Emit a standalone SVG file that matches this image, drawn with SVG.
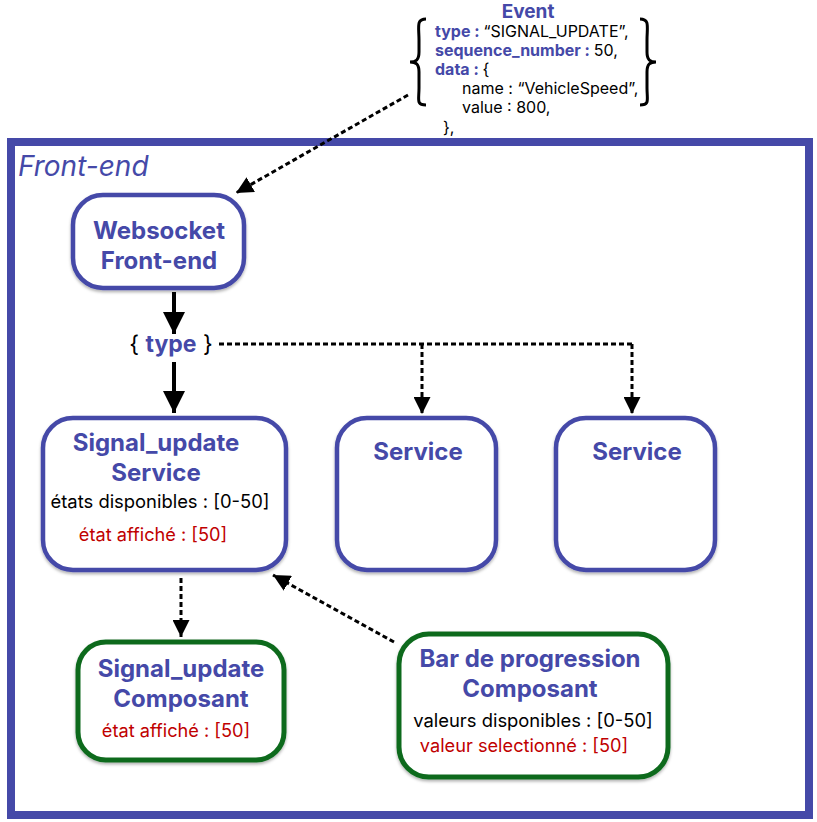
<svg xmlns="http://www.w3.org/2000/svg" width="817" height="822" viewBox="0 0 817 822">
  <defs>
    <style>
      text { font-family: Inter, "Noto Sans", "Liberation Sans", sans-serif; }
      .title { font-weight: 700; fill: #4549A8; font-size: 24px; text-anchor: middle; }
      .key { font-weight: 700; fill: #4549A8; }
      .code { font-size: 16px; fill: #000; }
      .body { font-size: 18.4px; fill: #000; text-anchor: middle; }
      .red { font-size: 18.2px; fill: #C00000; text-anchor: middle; }
      .blue-box { fill: #fff; stroke: #4549A8; stroke-width: 4.5; filter: url(#shadow); }
      .green-box { fill: #fff; stroke: #0E6A1E; stroke-width: 5; filter: url(#shadow); }
      .solid { stroke: #000; stroke-width: 4; fill: none; }
      .dash { stroke: #000; stroke-width: 3; fill: none; stroke-dasharray: 5 3; }
    </style>
    <filter id="shadow" x="-10%" y="-10%" width="120%" height="125%">
      <feDropShadow dx="0" dy="2" stdDeviation="1.5" flood-color="#000" flood-opacity="0.3"/>
    </filter>
    <marker id="headBig" viewBox="0 0 10 10" refX="10" refY="5" markerWidth="22" markerHeight="22" markerUnits="userSpaceOnUse" orient="auto">
      <path d="M0,0 L10,5 L0,10 z" fill="#000"/>
    </marker>
    <marker id="headMid" viewBox="0 0 10 10" refX="10" refY="5" markerWidth="17" markerHeight="17" markerUnits="userSpaceOnUse" orient="auto">
      <path d="M0,0 L10,5 L0,10 z" fill="#000"/>
    </marker>
  </defs>

  <rect width="817" height="822" fill="#fff"/>

  <!-- Front-end container -->
  <g id="frontend">
    <rect x="11" y="142" width="798" height="673" fill="none" stroke="#4549A8" stroke-width="8"/>
    <text x="18" y="176" font-size="28" font-style="italic" fill="#4549A8">Front-end</text>
  </g>

  <!-- Event payload -->
  <g id="event">
    <text x="528" y="18" class="title" style="font-size:19px">Event</text>
    <path d="M426,19 C416,19 419,27 419,40 L419,52 C419,60 416,62 410,62 C416,62 419,64 419,72 L419,88 C419,100 416,105 426,105" fill="none" stroke="#000" stroke-width="3"/>
    <path d="M640,19 C650,19 647,27 647,40 L647,52 C647,60 650,62 656,62 C650,62 647,64 647,72 L647,88 C647,100 650,105 640,105" fill="none" stroke="#000" stroke-width="3"/>
    <text x="435" y="37" class="code"><tspan class="key">type : </tspan>“SIGNAL_UPDATE”,</text>
    <text x="435" y="56" class="code"><tspan class="key">sequence_number : </tspan>50,</text>
    <text x="435" y="75" class="code"><tspan class="key">data : </tspan>{</text>
    <text x="462" y="94" class="code">name : “VehicleSpeed”,</text>
    <text x="462" y="113" class="code">value : 800,</text>
    <text x="443" y="133" class="code">},</text>
  </g>

  <!-- Nodes -->
  <g id="websocket">
    <rect x="73" y="195" width="171" height="93" rx="30" class="blue-box"/>
    <text x="159" y="239" class="title">Websocket</text>
    <text x="159" y="269" class="title">Front-end</text>
  </g>

  <g id="type-switch">
    <text x="171" y="352" text-anchor="middle" font-size="23"><tspan fill="#000">{ </tspan><tspan class="key">type</tspan><tspan fill="#000"> }</tspan></text>
  </g>

  <g id="signal-service">
    <rect x="43" y="418" width="243" height="152" rx="30" class="blue-box"/>
    <text x="156" y="451" class="title">Signal_update</text>
    <text x="156" y="481" class="title">Service</text>
    <text x="160" y="508" class="body">états disponibles : [0-50]</text>
    <text x="153" y="541" class="red">état affiché : [50]</text>
  </g>

  <g id="service-1">
    <rect x="337" y="418" width="159" height="152" rx="30" class="blue-box"/>
    <text x="418" y="460" class="title">Service</text>
  </g>

  <g id="service-2">
    <rect x="556" y="418" width="159" height="152" rx="30" class="blue-box"/>
    <text x="637" y="460" class="title">Service</text>
  </g>

  <g id="signal-composant">
    <rect x="78" y="642" width="206" height="118" rx="28" class="green-box"/>
    <text x="181" y="677" class="title">Signal_update</text>
    <text x="181" y="707" class="title">Composant</text>
    <text x="176" y="737" class="red">état affiché : [50]</text>
  </g>

  <g id="bar-composant">
    <rect x="399" y="634" width="269" height="143" rx="30" class="green-box"/>
    <text x="530" y="667" class="title">Bar de progression</text>
    <text x="530" y="697" class="title">Composant</text>
    <text x="533" y="727" class="body">valeurs disponibles : [0-50]</text>
    <text x="524" y="752" class="red">valeur selectionné : [50]</text>
  </g>

  <!-- Connectors -->
  <g id="connectors">
    <line x1="408" y1="95" x2="236" y2="193" class="dash" marker-end="url(#headMid)"/>
    <line x1="174" y1="292" x2="174" y2="334" class="solid" marker-end="url(#headBig)"/>
    <line x1="174" y1="362" x2="174" y2="413" class="solid" marker-end="url(#headBig)"/>
    <path d="M219,344 L632,344" class="dash"/>
    <line x1="422" y1="344" x2="422" y2="414" class="dash" marker-end="url(#headMid)"/>
    <line x1="632" y1="344" x2="632" y2="414" class="dash" marker-end="url(#headMid)"/>
    <line x1="181" y1="578" x2="181" y2="637" class="dash" marker-end="url(#headMid)"/>
    <line x1="394" y1="642" x2="273" y2="575" class="dash" marker-end="url(#headMid)"/>
  </g>
</svg>
